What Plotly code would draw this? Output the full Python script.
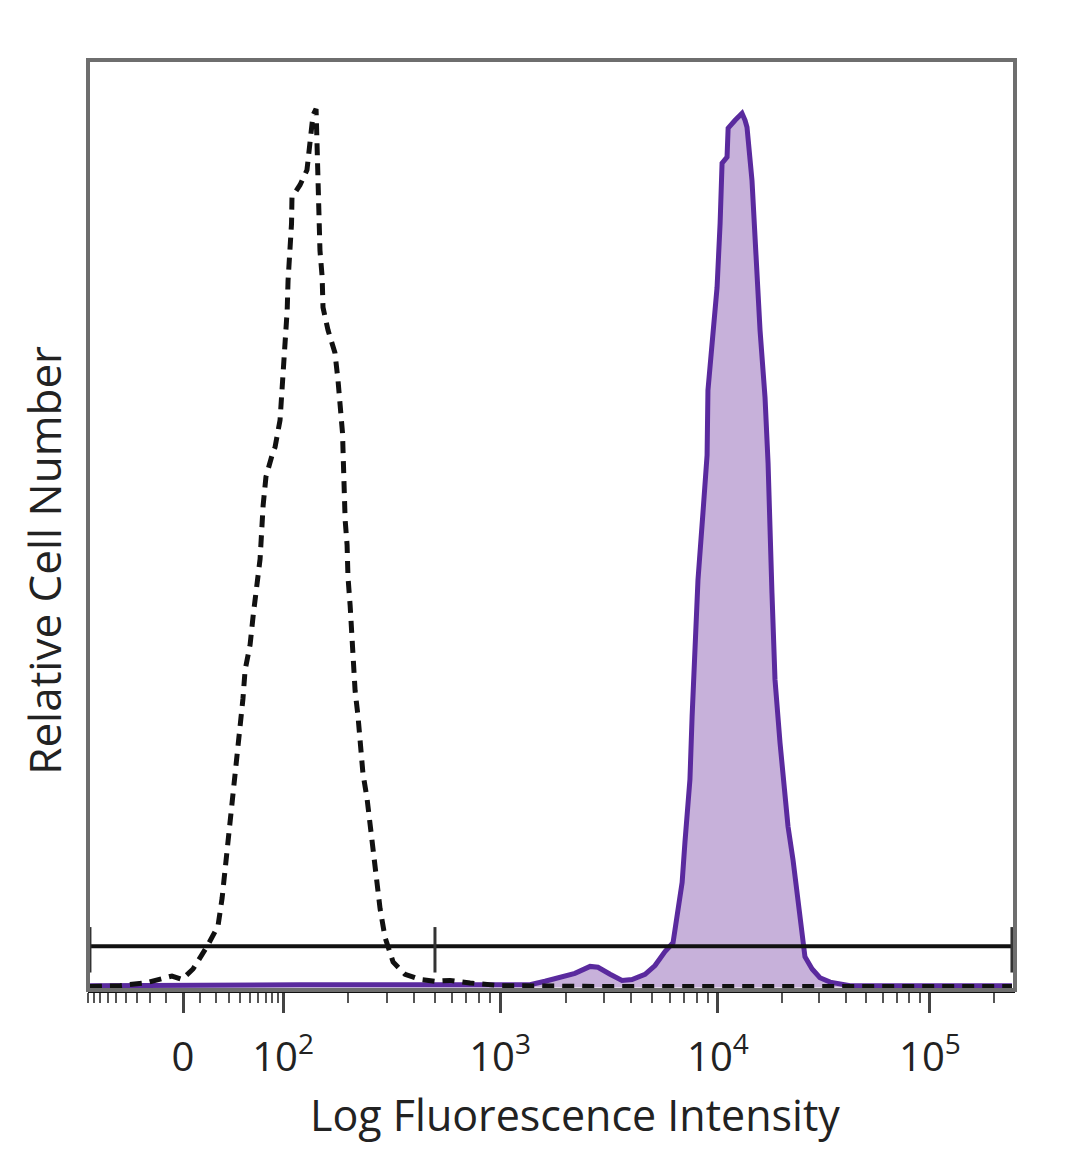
import numpy as np
import plotly.graph_objects as go

# ---- Data (x in display units: decades-like biexponential scale, y = relative cell number) ----
iso_x = [-0.429, -0.290, -0.175, -0.106, -0.051, -0.005, 0.046, 0.111, 0.161, 0.180, 0.194, 0.207,
         0.226, 0.240, 0.249, 0.263, 0.276, 0.286, 0.309, 0.323, 0.341, 0.355, 0.369, 0.382, 0.415,
         0.424, 0.447, 0.456, 0.466, 0.470, 0.480, 0.484, 0.493, 0.500, 0.502, 0.539, 0.571, 0.585,
         0.599, 0.613, 0.622, 0.627, 0.631, 0.641, 0.645, 0.668, 0.700, 0.714, 0.724, 0.735, 0.739,
         0.742, 0.747, 0.756, 0.760, 0.770, 0.779, 0.783, 0.793, 0.806, 0.816, 0.829, 0.848, 0.862,
         0.876, 0.894, 0.908, 0.931, 0.968, 1.023, 1.092, 1.161, 1.230, 1.323, 1.461, 1.922, 2.600,
         3.200, 3.820]
iso_y = [0.1, 0.2, 0.5, 0.9, 1.3, 0.9, 2.1, 4.7, 7.0, 10.2, 13.5, 16.3,
         20.0, 23.3, 26.5, 29.8, 33.0, 36.3, 39.2, 42.5, 45.7, 49.0, 55.1, 58.4, 61.3,
         61.8, 64.9, 68.0, 71.4, 74.4, 77.5, 80.9, 84.3, 87.4, 90.4, 91.8, 93.5, 96.9,
         99.8, 100.5, 93.5, 90.1, 84.3, 81.3, 77.8, 75.2, 72.6, 69.5, 66.4, 63.4, 60.0,
         56.8, 53.5, 50.6, 47.0, 43.7, 40.5, 37.1, 33.9, 31.1, 27.8, 24.5, 21.6, 18.4,
         15.5, 12.2, 9.0, 5.7, 2.9, 1.5, 0.9, 0.7, 0.8, 0.5, 0.2, 0.1, 0.1,
         0.1, 0.1]

stain_x = [-0.429, 0.078, 0.539, 1.000, 1.461, 1.599, 1.668, 1.737, 1.806, 1.876, 1.912, 1.968,
           2.023, 2.069, 2.129, 2.175, 2.221, 2.258, 2.276, 2.300, 2.313, 2.327, 2.336, 2.346,
           2.359, 2.373, 2.396, 2.415, 2.419, 2.438, 2.461, 2.475, 2.484, 2.507, 2.512, 2.544,
           2.576, 2.590, 2.599, 2.622, 2.636, 2.645, 2.659, 2.682, 2.696, 2.714, 2.728, 2.751,
           2.765, 2.788, 2.811, 2.843, 2.866, 2.899, 2.935, 2.982, 3.074, 3.820]
stain_y = [0.2, 0.3, 0.3, 0.3, 0.2, 0.3, 0.7, 1.1, 1.6, 2.4, 2.3, 1.5,
           0.8, 0.9, 1.5, 2.5, 4.1, 5.1, 8.1, 12.0, 16.6, 21.5, 23.8, 31.0,
           39.0, 46.6, 54.3, 60.9, 68.3, 74.4, 80.1, 87.4, 94.3, 95.0, 98.3, 99.2,
           100.0, 99.2, 98.4, 92.3, 85.1, 79.8, 75.2, 67.5, 60.0, 45.1, 35.2, 28.0,
           24.1, 18.4, 14.6, 7.4, 3.5, 2.1, 1.1, 0.6, 0.2, 0.2]

tick_vals = [0.0, 0.461, 1.461, 2.465, 3.442]
tick_text = ["0", "10<sup>2</sup>", "10<sup>3</sup>", "10<sup>4</sup>", "10<sup>5</sup>"]

gate_x = [-0.429, 3.820]
gate_divider = 1.161
gate_y = 4.7

x_range = [-0.438, 3.834]
y_range = [-0.3, 106.1]

# minor ticks: log ticks between decades, linear-ish ticks around zero
minor = []
for i in range(1, len(tick_vals)):
    lo, hi = tick_vals[i], (tick_vals[i + 1] if i + 1 < len(tick_vals) else tick_vals[i] + 0.98)
    for m in range(2, 10):
        v = lo + np.log10(m) * (hi - lo)
        if v < x_range[1]:
            minor.append(v)
c = 30.0
for v in list(range(-90, 0, 10)) + list(range(10, 100, 10)):
    pos = tick_vals[1] * np.arcsinh(v / c) / np.arcsinh(100 / c)
    if x_range[0] < pos < x_range[1]:
        minor.append(pos)

fig = go.Figure()
fig.add_trace(go.Scatter(x=stain_x, y=stain_y, mode="lines", fill="tozeroy",
                         fillcolor="#c7b1da", line=dict(color="#5a2a9e", width=5),
                         showlegend=False, hoverinfo="skip"))
fig.add_trace(go.Scatter(x=iso_x, y=iso_y, mode="lines",
                         line=dict(color="#111111", width=5, dash="12px,8px"),
                         showlegend=False, hoverinfo="skip"))

# gate marker
fig.add_shape(type="line", x0=gate_x[0], x1=gate_x[1], y0=gate_y, y1=gate_y,
              line=dict(color="#111111", width=4))
for gx in gate_x + [gate_divider]:
    fig.add_shape(type="line", x0=gx, x1=gx, y0=gate_y - 3.0, y1=gate_y + 2.2,
                  line=dict(color="#333333", width=3))

# frame
fig.add_shape(type="rect", xref="paper", yref="paper", x0=0, x1=1, y0=0, y1=1,
              line=dict(color="#6e6e6e", width=4), layer="above")

font_family = "Open Sans, Noto Sans, sans-serif"
fig.update_layout(
    width=1080, height=1169,
    margin=dict(l=80, r=73, t=52, b=187),
    plot_bgcolor="white", paper_bgcolor="white",
    xaxis=dict(range=x_range, showgrid=False, zeroline=False,
               showline=True, linecolor="#111111", linewidth=3,
               tickmode="array", tickvals=tick_vals, ticktext=tick_text,
               ticks="outside", ticklen=20, tickwidth=3, tickcolor="#444444",
               ticklabelstandoff=10,
               tickfont=dict(family=font_family, size=40, color="#222222"),
               minor=dict(tickmode="array", tickvals=minor, ticks="outside",
                          ticklen=10, tickwidth=2, tickcolor="#555555")),
    yaxis=dict(range=y_range, showgrid=False, zeroline=False, showticklabels=False,
               ticks="", showline=False),
    annotations=[
        dict(text="Log Fluorescence Intensity", xref="paper", yref="paper",
             x=0.525, y=-0.134, xanchor="center", yanchor="middle", showarrow=False,
             font=dict(family=font_family, size=43, color="#222222")),
        dict(text="Relative Cell Number", xref="paper", yref="paper",
             x=-0.047, y=0.462, xanchor="center", yanchor="middle", showarrow=False,
             textangle=-90, font=dict(family=font_family, size=44, color="#222222")),
    ],
)

fig.write_html("out.html")
